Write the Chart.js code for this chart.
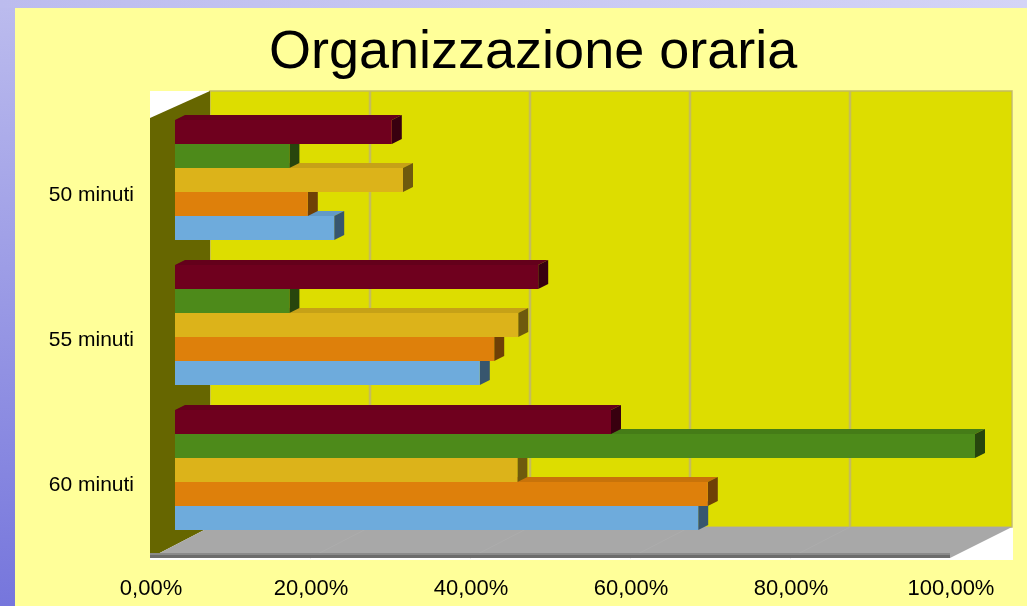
<!DOCTYPE html>
<html>
<head>
<meta charset="utf-8">
<title>Organizzazione oraria</title>
<script src="https://cdn.jsdelivr.net/npm/chart.js@4"></script>
<style>
  html, body { margin: 0; padding: 0; }
  body {
    width: 1027px; height: 606px; overflow: hidden; position: relative;
    background:
      linear-gradient(90deg, #bcbcee 0%, #d4d4f6 100%) top left / 100% 8px no-repeat,
      linear-gradient(180deg, #bcbcee 0%, #7676dc 100%);
  }
  #panel { position: absolute; left: 15px; top: 8px; width: 1012px; height: 598px; background: #ffff99; }
  h1 {
    position: absolute; left: 269px; top: 18px; margin: 0;
    font: normal 54px "Liberation Sans", Arial, sans-serif; color: #000; white-space: nowrap;
  }
  canvas { position: absolute; left: 0; top: 0; }
</style>
</head>
<body>
<div id="panel"></div>
<h1>Organizzazione oraria</h1>
<canvas id="chart" width="1027" height="606"></canvas>
<script>
const categories = ["50 minuti", "55 minuti", "60 minuti"];
const serie1 = [27.1, 45.4, 54.5];
const serie2 = [14.3, 14.3, 100];
const serie3 = [28.5, 42.9, 42.8];
const serie4 = [16.6, 39.9, 66.6];
const serie5 = [19.9, 38.1, 65.4];
const colors = ["#6f001e", "#4d8a1a", "#dcb31a", "#de800b", "#6eabdc"];

// scurisce un colore hex
function shade(hex, f) {
  const n = parseInt(hex.slice(1), 16);
  const r = Math.round((n >> 16) * f);
  const g = Math.round(((n >> 8) & 255) * f);
  const b = Math.round((n & 255) * f);
  return `rgb(${r}, ${g}, ${b})`;
}

function poly(ctx, color, pts) {
  ctx.fillStyle = color;
  ctx.beginPath();
  pts.forEach((p, i) => (i ? ctx.lineTo(p[0], p[1]) : ctx.moveTo(p[0], p[1])));
  ctx.closePath();
  ctx.fill();
}

// pareti, pavimento e griglia finti 3D + facce superiori e laterali delle barre
const box3d = {
  id: "box3d",
  beforeDatasetsDraw(chart) {
    const ctx = chart.ctx;
    const a = chart.chartArea;
    const x = chart.scales.x;
    const fl = a.left - 25, bl = a.left + 35;
    const fr = a.right - 25, br = a.right + 37;
    const tb = a.top - 16.5, tf = a.top + 10.5;
    const bb = a.bottom - 15.5, bf = a.bottom + 15.5;

    ctx.save();
    ctx.fillStyle = "#ffffff";
    ctx.fillRect(fl, tb, br - fl + 1, bf - tb + 2);

    // parete di fondo
    ctx.fillStyle = "#dddd00";
    ctx.fillRect(bl, tb, br - bl, bb - tb);
    ctx.strokeStyle = "#c4bc5c";
    ctx.lineWidth = 1.5;
    ctx.strokeRect(bl, tb, br - bl, bb - tb);

    // griglia sul fondo
    x.ticks.forEach((t) => {
      const px = x.getPixelForValue(t.value);
      if (t.value > 0 && t.value < 100) {
        ctx.strokeStyle = "#c4bc5c";
        ctx.lineWidth = 2.5;
        ctx.beginPath();
        ctx.moveTo(px + 35, tb);
        ctx.lineTo(px + 35, bb);
        ctx.stroke();
      }
    });

    // parete sinistra e pavimento
    poly(ctx, "#666600", [[fl, tf], [bl, tb], [bl, bb], [fl, bf]]);
    poly(ctx, "#a8a8a8", [[fl, bf], [bl, bb], [br, bb], [fr, bf]]);
    x.ticks.forEach((t) => {
      const px = x.getPixelForValue(t.value);
      if (t.value > 0 && t.value < 100) {
        ctx.strokeStyle = "#adadad";
        ctx.lineWidth = 1;
        ctx.beginPath();
        ctx.moveTo(px + 35, bb);
        ctx.lineTo(px - 25, bf);
        ctx.stroke();
      }
    });
    ctx.fillStyle = "#8a8a8a";
    ctx.fillRect(fl, bf - 5, fr - fl, 2);
    ctx.fillStyle = "#6c6c6c";
    ctx.fillRect(fl, bf - 3, fr - fl, 3);

    // barre: prima le facce superiori, poi quelle laterali
    const dx = 10, dy = 5;
    chart.data.datasets.forEach((ds, i) => {
      chart.getDatasetMeta(i).data.forEach((bar) => {
        const top = bar.y - bar.height / 2;
        poly(ctx, shade(colors[i], 0.9), [[bar.base, top], [bar.base + dx, top - dy], [bar.x + dx, top - dy], [bar.x, top]]);
      });
    });
    chart.data.datasets.forEach((ds, i) => {
      chart.getDatasetMeta(i).data.forEach((bar) => {
        const top = bar.y - bar.height / 2;
        const bot = bar.y + bar.height / 2;
        poly(ctx, shade(colors[i], 0.5), [[bar.x, top], [bar.x + dx, top - dy], [bar.x + dx, bot - dy], [bar.x, bot]]);
      });
    });
    ctx.restore();
  },
};

const series = [serie1, serie2, serie3, serie4, serie5];

new Chart(document.getElementById("chart").getContext("2d"), {
  type: "bar",
  data: {
    labels: categories,
    datasets: series.map((values, i) => ({
      label: "Serie " + (i + 1),
      data: values,
      backgroundColor: colors[i],
      borderWidth: 0,
      categoryPercentage: 0.8276,
      barPercentage: 1,
    })),
  },
  options: {
    indexAxis: "y",
    responsive: false,
    animation: false,
    layout: { autoPadding: false, padding: { top: 107.5, right: 52, left: 0, bottom: 0 } },
    plugins: { legend: { display: false }, title: { display: false }, tooltip: { enabled: false } },
    scales: {
      x: {
        min: 0,
        max: 100,
        grid: { display: false, drawTicks: false },
        border: { display: false },
        afterFit(scale) {
          scale.height = 63.5;
          // altrimenti l'ultima etichetta restringe l'area del grafico
          scale.paddingLeft = 0;
          scale.paddingRight = 0;
        },
        ticks: {
          stepSize: 20,
          padding: 33,
          labelOffset: -24,
          maxRotation: 0,
          color: "#000",
          font: { family: "Liberation Sans", size: 22 },
          callback: (v) => v.toFixed(2).replace(".", ",") + "%",
        },
      },
      y: {
        grid: { display: false, drawTicks: false },
        border: { display: false },
        afterFit(scale) { scale.width = 175; },
        ticks: {
          padding: 41,
          labelOffset: 15,
          color: "#000",
          font: { family: "Liberation Sans", size: 21 },
        },
      },
    },
  },
  plugins: [box3d],
});
</script>
</body>
</html>
